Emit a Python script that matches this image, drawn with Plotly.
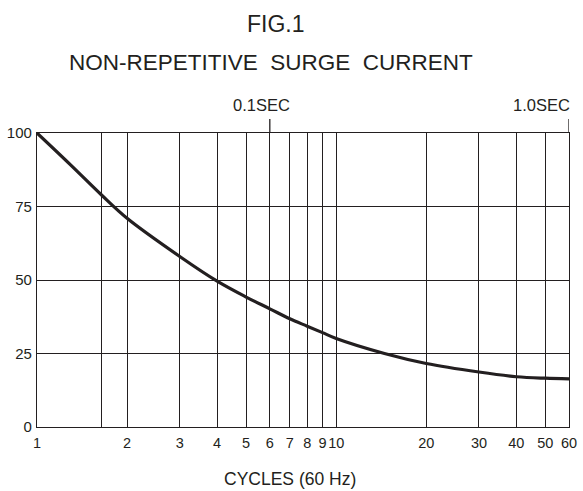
import numpy as np
import plotly.graph_objects as go

# Data
cycles = [1, 1.3, 1.64, 2, 3, 4, 5, 6, 7, 8, 9, 10, 14.5, 20, 30, 40, 50, 60]
surge = [100, 89, 79, 71, 58, 49.6, 44.2, 40.2, 36.8, 34.3, 32.1, 30.1, 25, 21.6, 18.7, 17.1, 16.6, 16.4]

x_tickvals = [1, 1.64, 2, 3, 4, 5, 6, 7, 8, 9, 10, 20, 30, 40, 50, 60]
x_ticktext = ["1", "", "2", "3", "4", "5", "6", "7", "8", "9", "10", "20", "30", "40", "50", "60"]
y_tickvals = [0, 25, 50, 75, 100]
y_ticktext = ["0", "25", "50", "75", "100"]

sec_marks = [6, 60]
sec_labels = ["0.1SEC", "1.0SEC"]

INK = "#231f20"
FONT = "Liberation Sans, Arial, sans-serif"

fig = go.Figure()
fig.add_trace(go.Scatter(
    x=cycles, y=surge, mode="lines",
    line=dict(color=INK, width=3.2, shape="spline", smoothing=1.0),
    showlegend=False, hoverinfo="skip",
))

fig.update_layout(
    width=583, height=491,
    margin=dict(l=37, r=14, t=133, b=64, autoexpand=False),
    paper_bgcolor="white", plot_bgcolor="white",
    font=dict(family=FONT, color=INK, size=15),
)
fig.update_xaxes(
    type="log", range=[0, np.log10(60)],
    tickvals=x_tickvals, ticktext=x_ticktext, tickangle=0,
    showgrid=True, gridcolor=INK, gridwidth=1.3,
    showline=True, linecolor=INK, linewidth=1.3, mirror=True,
    ticks="", zeroline=False, automargin=False, ticklabelstandoff=2,
    tickfont=dict(size=14.5, color=INK),
)
fig.update_yaxes(
    range=[0, 100],
    tickvals=y_tickvals, ticktext=y_ticktext,
    showgrid=True, gridcolor=INK, gridwidth=1.3,
    showline=True, linecolor=INK, linewidth=1.3, mirror=True,
    ticks="", zeroline=False, automargin=False, ticklabelstandoff=1,
    tickfont=dict(size=15, color=INK),
)

# Titles
fig.add_annotation(text="FIG.1", xref="paper", yref="paper", x=0.449, y=1.371,
                   showarrow=False, font=dict(size=23, color=INK, family=FONT),
                   xanchor="center", yanchor="middle")
fig.add_annotation(text="NON-REPETITIVE&nbsp;&nbsp;SURGE&nbsp;&nbsp;CURRENT", xref="paper", yref="paper",
                   x=0.44, y=1.2385, showarrow=False,
                   font=dict(size=22.5, color=INK, family=FONT),
                   xanchor="center", yanchor="middle")
fig.add_annotation(text="CYCLES (60 Hz)", xref="paper", yref="paper",
                   x=0.475, y=-0.177, showarrow=False,
                   font=dict(size=17.5, color=INK, family=FONT),
                   xanchor="center", yanchor="middle")

# Seconds marks above the top edge
for xv, lab in zip(sec_marks, sec_labels):
    fig.add_shape(type="line", xref="x", yref="paper",
                  x0=xv, x1=xv, y0=1, y1=1.048,
                  line=dict(color=INK, width=1.3))
    right = xv == sec_marks[-1]
    fig.add_annotation(text=lab, xref="x", yref="paper", x=np.log10(xv), y=1.094,
                       showarrow=False, font=dict(size=16.5, color=INK, family=FONT),
                       xanchor="right" if right else "center",
                       xshift=3 if right else -8, yanchor="middle")

fig.write_html("out.html",
               config={"displayModeBar": False},
               post_script="document.body.style.margin='0';document.body.style.overflow='hidden';")
